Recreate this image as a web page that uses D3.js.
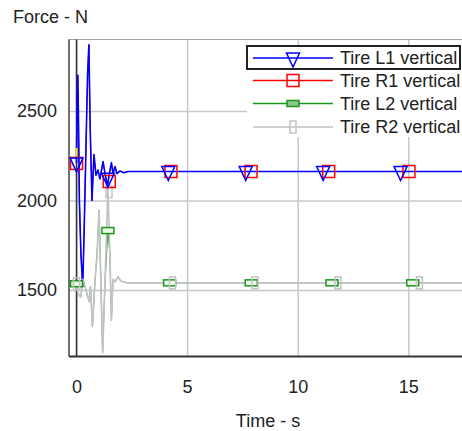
<!DOCTYPE html>
<html>
<head>
<meta charset="utf-8">
<script src="https://cdn.jsdelivr.net/npm/d3@7"></script>
<style>
  html, body { margin: 0; padding: 0; background: #fff; }
  svg { display: block; font-family: "Liberation Sans", Arial, sans-serif; }
</style>
</head>
<body>
<svg id="chart" width="462" height="431"></svg>
<script>
// ---------- data ----------
const xTicks = [0, 5, 10, 15];
const yTicks = [1500, 2000, 2500];
const seriesNames = ["Tire L1 vertical", "Tire R1 vertical", "Tire L2 vertical", "Tire R2 vertical"];
const seriesColors = ["#0000ff", "#ff0000", "#1a961a", "#c3c3c3"];

// Tire L1 vertical (blue)
const timeL1 = [0, 0.03, 0.06, 0.09, 0.13, 0.2, 0.28, 0.34, 0.42, 0.5, 0.56, 0.62, 0.7, 0.79, 0.88, 0.97, 1.06, 1.2, 1.29, 1.4, 1.47, 1.58, 1.65, 1.74, 1.83, 1.97, 2.15, 2.33, 18];
const forceL1 = [2210, 2600, 2700, 2450, 2000, 1700, 1520, 1800, 2250, 2700, 2870, 2400, 2000, 2257, 2140, 2170, 2120, 2218, 2150, 2080, 2140, 2212, 2150, 2190, 2150, 2165, 2155, 2162, 2162];

// Tire R1 vertical (red) - almost identical to L1, hidden beneath it
const timeR1 = [0, 0.03, 0.06, 0.09, 0.13, 0.2, 0.28, 0.34, 0.42, 0.5, 0.56, 0.62, 0.7, 0.79, 0.88, 0.97, 1.06, 1.2, 1.29, 1.4, 1.47, 1.58, 1.65, 1.74, 1.83, 1.97, 2.15, 2.33, 18];
const forceR1 = [2210, 2600, 2700, 2450, 2000, 1700, 1520, 1800, 2250, 2700, 2870, 2400, 2000, 2255, 2142, 2168, 2122, 2215, 2150, 2085, 2138, 2210, 2150, 2188, 2152, 2164, 2156, 2162, 2162];

// Tire L2 vertical (green)
const timeL2 = [0, 0.07, 0.19, 0.29, 0.38, 0.57, 0.63, 0.72, 0.84, 0.93, 1.02, 1.11, 1.18, 1.29, 1.42, 1.51, 1.58, 1.65, 1.74, 1.88, 2.0, 2.28, 18];
const forceL2 = [1530, 1480, 1460, 1560, 1520, 1435, 1520, 1295, 1560, 1700, 1945, 1500, 1150, 1550, 1832, 1700, 1330, 1560, 1545, 1575, 1550, 1540, 1540];

// Tire R2 vertical (gray)
const timeR2 = [0, 0.07, 0.19, 0.29, 0.38, 0.57, 0.63, 0.72, 0.84, 0.93, 1.02, 1.11, 1.18, 1.29, 1.42, 1.51, 1.58, 1.65, 1.74, 1.88, 2.0, 2.28, 18];
const forceR2 = [1530, 1480, 1460, 1560, 1520, 1435, 1520, 1295, 1560, 1700, 1945, 1500, 1150, 1550, 2070, 1700, 1330, 1560, 1545, 1575, 1550, 1540, 1540];

// marker positions
const markTimeL1 = [0, 1.42, 4.15, 7.65, 11.15, 14.65];
const markForceL1 = [2210, 2125, 2162, 2162, 2162, 2162];
const markTimeR1 = [0, 1.48, 4.27, 7.89, 11.4, 15.03];
const markForceR1 = [2207, 2106, 2162, 2162, 2162, 2162];
const markTimeL2 = [0, 1.42, 4.21, 7.9, 11.55, 15.2];
const markForceL2 = [1535, 1832, 1540, 1540, 1540, 1540];
const markTimeR2 = [0, 1.47, 4.34, 8.07, 11.82, 15.5];
const markForceR2 = [1535, 2050, 1540, 1540, 1540, 1540];

// cursor at t = 0
const cursorTime = [0, 0];
const cursorForce = [2237, 2293];

// ---------- layout ----------
const svg = d3.select("#chart");
const plotLeft = 69, plotRight = 470, plotTop = 39.5, plotBottom = 356.5;
const x = d3.scaleLinear().domain([0, 15]).range([76.5, 408.3]);
const y = d3.scaleLinear().domain([1500, 2500]).range([290, 111]);
const FONT = 18;
const textColor = "#222";

svg.append("defs").append("clipPath").attr("id", "plotClip")
  .append("rect").attr("x", plotLeft).attr("y", plotTop)
  .attr("width", plotRight - plotLeft).attr("height", plotBottom - plotTop);

// gridlines + tick labels via axes
const xAxis = d3.axisBottom(x).tickValues(xTicks).tickFormat(d3.format("d"))
  .tickSize(-(plotBottom - plotTop)).tickPadding(24);
const gx = svg.append("g").attr("transform", `translate(0,${plotBottom})`).call(xAxis);
gx.select(".domain").remove();
gx.selectAll(".tick line").attr("stroke", "#c8c8c8").attr("stroke-width", 1.5);
gx.selectAll(".tick text").attr("font-size", FONT).attr("fill", textColor)
  .attr("font-family", "Liberation Sans, Arial, sans-serif");

const yAxis = d3.axisLeft(y).tickValues(yTicks).tickFormat(d3.format("d"))
  .tickSize(-(plotRight - plotLeft)).tickPadding(12);
const gy = svg.append("g").attr("transform", `translate(${plotLeft},0)`).call(yAxis);
gy.select(".domain").remove();
gy.selectAll(".tick line").attr("stroke", "#c8c8c8").attr("stroke-width", 1.5);
gy.selectAll(".tick text").attr("font-size", FONT).attr("fill", textColor)
  .attr("font-family", "Liberation Sans, Arial, sans-serif");

// frame
svg.append("line").attr("x1", plotLeft).attr("x2", plotRight).attr("y1", plotTop).attr("y2", plotTop)
  .attr("stroke", "#a0a0a0").attr("stroke-width", 1);
svg.append("line").attr("x1", plotLeft).attr("x2", plotLeft).attr("y1", plotTop).attr("y2", plotBottom)
  .attr("stroke", "#444").attr("stroke-width", 1.5);
svg.append("line").attr("x1", x(0)).attr("x2", x(0)).attr("y1", plotTop).attr("y2", plotBottom)
  .attr("stroke", "#333").attr("stroke-width", 1.5);
svg.append("line").attr("x1", plotLeft).attr("x2", plotRight).attr("y1", plotBottom).attr("y2", plotBottom)
  .attr("stroke", "#333").attr("stroke-width", 2);

// ---------- series lines ----------
const plot = svg.append("g").attr("clip-path", "url(#plotClip)");
const line = d3.line().x(d => x(d[0])).y(d => y(d[1]));
const zip = (a, b) => a.map((t, i) => [t, b[i]]);
const lineData = [
  { pts: zip(timeR1, forceR1), color: seriesColors[1], w: 1 },
  { pts: zip(timeL1, forceL1), color: seriesColors[0], w: 1.6 },
  { pts: zip(timeL2, forceL2), color: seriesColors[2], w: 1 },
  { pts: zip(timeR2, forceR2), color: seriesColors[3], w: 1.7 }
];
plot.selectAll("path.series").data(lineData).join("path")
  .attr("class", "series")
  .attr("d", d => line(d.pts))
  .attr("fill", "none")
  .attr("stroke", d => d.color)
  .attr("stroke-width", d => d.w)
  .attr("stroke-linejoin", "round");

plot.append("path").attr("d", line(zip(cursorTime, cursorForce)))
  .attr("stroke", "#ffe000").attr("stroke-width", 2).attr("fill", "none");

// ---------- markers ----------
function triangle(g, cx, cy, color) {
  g.append("path")
    .attr("d", `M${cx - 6.5},${cy - 5} L${cx + 6.5},${cy - 5} L${cx},${cy + 9} Z`)
    .attr("fill", "none").attr("stroke", color).attr("stroke-width", 1.5);
}
function square(g, cx, cy, color) {
  g.append("rect").attr("x", cx - 6).attr("y", cy - 6).attr("width", 12).attr("height", 12)
    .attr("fill", "none").attr("stroke", color).attr("stroke-width", 1.5);
}
function hrect(g, cx, cy, color, fill) {
  g.append("rect").attr("x", cx - 6).attr("y", cy - 3).attr("width", 12).attr("height", 6)
    .attr("fill", fill).attr("stroke", color).attr("stroke-width", 1.5);
}
function vrect(g, cx, cy, color) {
  g.append("rect").attr("x", cx - 3).attr("y", cy - 6).attr("width", 6).attr("height", 12)
    .attr("fill", "none").attr("stroke", color).attr("stroke-width", 1.5);
}

const mk = svg.append("g").attr("clip-path", "url(#plotClip)");
markTimeL2.forEach((t, i) => hrect(mk, x(t), y(markForceL2[i]), seriesColors[2], "#eef7ee"));
markTimeR2.forEach((t, i) => vrect(mk, x(t), y(markForceR2[i]), seriesColors[3]));
markTimeR1.forEach((t, i) => square(mk, x(t), y(markForceR1[i]), seriesColors[1]));
markTimeL1.forEach((t, i) => triangle(mk, x(t), y(markForceL1[i]), seriesColors[0]));

// ---------- legend ----------
const lg = svg.append("g");
lg.append("rect").attr("x", 247).attr("y", 46).attr("width", 230).attr("height", 91)
  .attr("fill", "#fff");
const rowY = [58, 80.5, 103.5, 127];
seriesNames.forEach((name, i) => {
  const cy = rowY[i];
  lg.append("line").attr("x1", 253).attr("x2", 333).attr("y1", cy).attr("y2", cy)
    .attr("stroke", seriesColors[i]).attr("stroke-width", 1.5);
  if (i === 0) triangle(lg, 293, cy, seriesColors[0]);
  if (i === 1) square(lg, 293, cy, seriesColors[1]);
  if (i === 2) hrect(lg, 293, cy, seriesColors[2], "#8cc88c");
  if (i === 3) vrect(lg, 293, cy, seriesColors[3]);
  lg.append("text").attr("x", 340).attr("y", cy).attr("dy", "0.36em")
    .attr("font-size", FONT).attr("fill", textColor).text(name);
});
lg.append("rect").attr("x", 247).attr("y", 46).attr("width", 213).attr("height", 23)
  .attr("fill", "none").attr("stroke", "#222").attr("stroke-width", 2);

// ---------- titles ----------
svg.append("text").attr("x", 13).attr("y", 23).attr("font-size", FONT).attr("fill", textColor)
  .text("Force - N");
svg.append("text").attr("x", 268).attr("y", 427).attr("text-anchor", "middle")
  .attr("font-size", FONT).attr("fill", textColor).text("Time - s");
</script>
</body>
</html>
